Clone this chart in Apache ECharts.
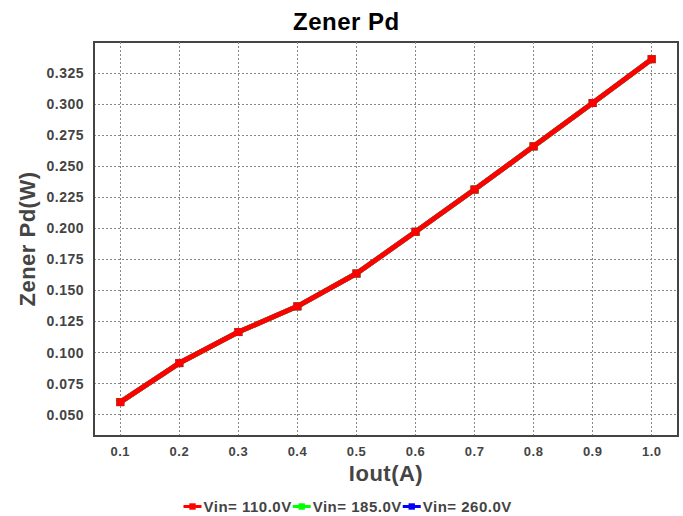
<!DOCTYPE html>
<html><head><meta charset="utf-8">
<script src="https://cdn.jsdelivr.net/npm/echarts@6/dist/echarts.min.js"></script>
<style>html,body{margin:0;padding:0;background:#fff}#c{width:683px;height:516px}#c text{letter-spacing:0.5px}</style>
</head><body><div id="c"></div>
<script>
const iout = [0.1, 0.2, 0.3, 0.4, 0.5, 0.6, 0.7, 0.8, 0.9, 1.0];
const pd110 = [0.0601, 0.0915, 0.1165, 0.1372, 0.1636, 0.1972, 0.2312, 0.2660, 0.3009, 0.3362];
const pd185 = [0.0601, 0.0915, 0.1165, 0.1372, 0.1636, 0.1972, 0.2312, 0.2660, 0.3009, 0.3362];
const pd260 = [0.0601, 0.0915, 0.1165, 0.1372, 0.1636, 0.1972, 0.2312, 0.2660, 0.3009, 0.3362];
const seriesNames = ['Vin= 110.0V', 'Vin= 185.0V', 'Vin= 260.0V'];
const xTicks = [0.1, 0.2, 0.3, 0.4, 0.5, 0.6, 0.7, 0.8, 0.9, 1.0];
const yTicks = [0.05, 0.075, 0.1, 0.125, 0.15, 0.175, 0.2, 0.225, 0.25, 0.275, 0.3, 0.325];
const colors = ['#ff0000', '#00ff00', '#0000ff'];

const font = 'Liberation Sans, Arial, sans-serif';
const chart = echarts.init(document.getElementById('c'), null, {renderer: 'svg'});
function mk(name, vals, color, z) {
  return {
    name, type: 'line', z,
    data: iout.map((x, i) => [x, vals[i]]),
    symbol: 'rect', symbolSize: 8,
    lineStyle: {color, width: 5},
    itemStyle: {color},
    color, animation: false
  };
}
chart.setOption({
  animation: false,
  title: {text: 'Zener Pd', left: 288, top: 4,
    textStyle: {fontFamily: font, fontSize: 24, fontWeight: 'bold', color: '#000'}},
  legend: {bottom: -3, left: 177, itemWidth: 18, itemHeight: 8, itemGap: 5,
    lineStyle: {width: 3},
    data: seriesNames,
    textStyle: {fontFamily: font, fontSize: 15, fontWeight: 'bold', color: '#444', padding: [0, 0, 0, -3]}},
  grid: {left: 94, right: 5, top: 42, bottom: 80, show: true, borderColor: '#444', borderWidth: 2},
  xAxis: {
    type: 'value', min: 0.0555, max: 1.0445,
    name: 'Iout(A)', nameLocation: 'middle', nameGap: 24,
    nameTextStyle: {fontFamily: font, fontSize: 22, fontWeight: 'bold', color: '#444'},
    axisLine: {show: true, lineStyle: {color: '#444', width: 2}},
    axisTick: {show: false, customValues: xTicks},
    axisLabel: {customValues: xTicks, margin: 9, fontFamily: font, fontSize: 13, fontWeight: 'bold', color: '#444',
      formatter: v => v.toFixed(1)},
    splitLine: {show: true, lineStyle: {color: '#888', type: [2, 2], width: 1}}
  },
  yAxis: {
    type: 'value', min: 0.0328, max: 0.35,
    name: 'Zener Pd(W)', nameLocation: 'middle', nameGap: 53,
    nameTextStyle: {fontFamily: font, fontSize: 22, fontWeight: 'bold', color: '#444'},
    axisLine: {show: true, lineStyle: {color: '#444', width: 2}},
    axisTick: {show: false, customValues: yTicks},
    axisLabel: {customValues: yTicks, margin: 10, fontFamily: font, fontSize: 14, fontWeight: 'bold', color: '#444',
      formatter: v => v.toFixed(3)},
    splitLine: {show: true, lineStyle: {color: '#888', type: [2, 2], width: 1}}
  },
  series: [mk(seriesNames[2], pd260, colors[2], 2), mk(seriesNames[1], pd185, colors[1], 3), mk(seriesNames[0], pd110, colors[0], 4)]
});
</script></body></html>
